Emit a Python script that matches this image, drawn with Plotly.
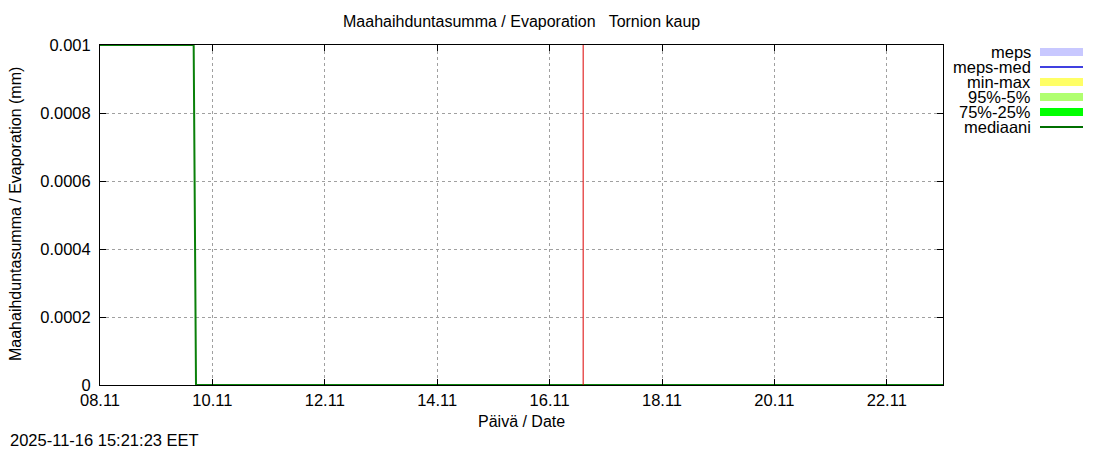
import plotly.graph_objects as go

# Data
median_times = ["2025-11-08 00:00", "2025-11-09 16:00", "2025-11-09 17:00", "2025-11-23 00:00"]
median_values = [0.001, 0.001, 0.0, 0.0]
now_time = "2025-11-16 14:20"

x_tick_vals = ["2025-11-08", "2025-11-10", "2025-11-12", "2025-11-14", "2025-11-16",
               "2025-11-18", "2025-11-20", "2025-11-22"]
x_tick_text = ["08.11", "10.11", "12.11", "14.11", "16.11", "18.11", "20.11", "22.11"]
y_tick_vals = [0, 0.0002, 0.0004, 0.0006, 0.0008, 0.001]
y_tick_text = ["0", "0.0002", "0.0004", "0.0006", "0.0008", "0.001"]

legend_labels = ["meps", "meps-med", "min-max", "95%-5%", "75%-25%", "mediaani"]
legend_colors = ["#c8c8ff", "#4040e0", "#ffff66", "#b0ff70", "#00ff00", "#007000"]
legend_widths = [8, 2, 8, 8, 8, 2]

title_text = "Maahaihduntasumma / Evaporation   Tornion kaup"
y_title = "Maahaihduntasumma / Evaporation (mm)"
x_title = "Päivä / Date"
stamp = "2025-11-16 15:21:23 EET"

FONT = "Liberation Sans, Arial, sans-serif"
FS = 16.5
FS_T = 16

# page has an 8px body margin: work in page pixels, convert to figure pixels
OFF = 8
FW, FH = 1100 - OFF, 450 - OFF
L, R, T, B = 100 - OFF, 943 - OFF, 45 - OFF, 385 - OFF
W, H = R - L, B - T
def px(x): return (x - OFF - L) / W
def py(y): return (B - (y - OFF)) / H

fig = go.Figure()
fig.add_trace(go.Scatter(x=median_times, y=median_values, mode="lines",
                         line=dict(color="#0a800a", width=2), showlegend=False,
                         hoverinfo="skip"))

fig.add_shape(type="line", xref="x", yref="paper", x0=now_time, x1=now_time,
              y0=0, y1=1, line=dict(color="#dd0000", width=1))

# custom legend (text then sample, right of plot)
for i, (lab, col, w) in enumerate(zip(legend_labels, legend_colors, legend_widths)):
    yy = 52 + 15 * i
    fig.add_annotation(xref="paper", yref="paper", x=px(1033), y=py(yy), text=lab,
                       showarrow=False, xanchor="right", yanchor="middle",
                       font=dict(family=FONT, size=FS, color="black"))
    fig.add_shape(type="line", xref="paper", yref="paper", x0=px(1040), x1=px(1083),
                  y0=py(yy), y1=py(yy), line=dict(color=col, width=w))

fig.add_annotation(xref="paper", yref="paper", x=px(8), y=py(440), text=stamp,
                   showarrow=False, xanchor="left", yanchor="middle",
                   font=dict(family=FONT, size=FS, color="black"))
fig.add_annotation(xref="paper", yref="paper", x=px(521), y=py(421), text=x_title,
                   showarrow=False, xanchor="center", yanchor="middle",
                   font=dict(family=FONT, size=FS_T, color="black"))
fig.add_annotation(xref="paper", yref="paper", x=px(15), y=py(214), text=y_title,
                   showarrow=False, xanchor="center", yanchor="middle", textangle=-90,
                   font=dict(family=FONT, size=FS_T, color="black"))
fig.add_annotation(xref="paper", yref="paper", x=px(521), y=py(21), text=title_text,
                   showarrow=False, xanchor="center", yanchor="middle",
                   font=dict(family=FONT, size=FS_T, color="black"))

axis_common = dict(showline=True, linecolor="black", linewidth=1, mirror="ticks",
                   ticks="inside", ticklen=6, tickcolor="black",
                   gridcolor="#a0a0a0", griddash="dot", gridwidth=1,
                   zeroline=False, tickfont=dict(family=FONT, size=FS, color="black"))

fig.update_xaxes(range=["2025-11-08", "2025-11-23"], tickvals=x_tick_vals,
                 ticktext=x_tick_text, **axis_common)
fig.update_yaxes(range=[0, 0.001], tickvals=y_tick_vals, ticktext=y_tick_text,
                 ticklabelstandoff=5, **axis_common)

fig.update_layout(
    width=FW, height=FH,
    margin=dict(l=L, r=FW - R, t=T, b=FH - B, pad=0),
    paper_bgcolor="white", plot_bgcolor="white",
    showlegend=False,
)

fig.write_html("out.html")
